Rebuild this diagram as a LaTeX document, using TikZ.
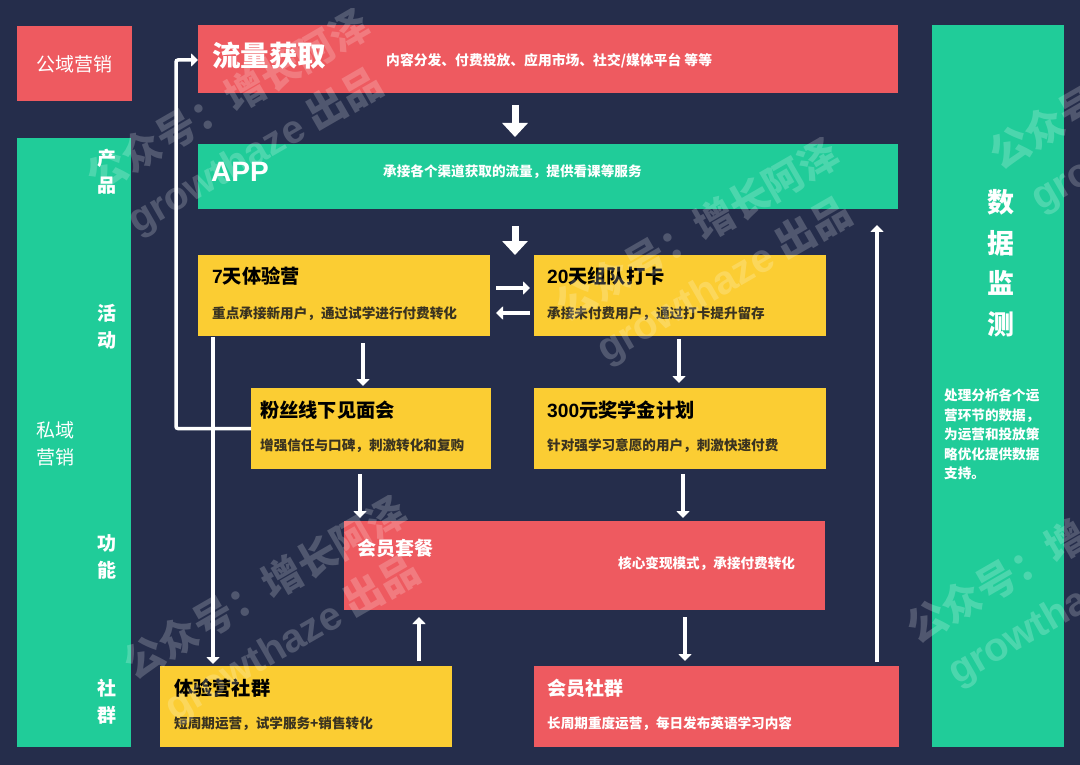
\documentclass[tikz,border=0pt]{standalone}
\usepackage{fontspec}
\usetikzlibrary{arrows.meta}
\setmainfont{Noto Sans CJK SC}
\newfontfamily\lat{Liberation Sans}
\definecolor{bgc}{HTML}{252D4B}
\definecolor{redc}{HTML}{EE5A60}
\definecolor{greenc}{HTML}{20CC99}
\definecolor{yellowc}{HTML}{FBCD33}
\definecolor{darktx}{HTML}{3A3320}
\tikzset{
  x=1pt,y=-1pt,
  panel/.style={rectangle,inner sep=0pt,outer sep=0pt},
  redp/.style={panel,fill=redc},
  greenp/.style={panel,fill=greenc},
  yellowp/.style={panel,fill=yellowc},
  headw/.style={anchor=west,inner sep=0pt,text=white,font=\fontsize{19}{19}\selectfont\bfseries},
  headk/.style={anchor=west,inner sep=0pt,text=black,font=\fontsize{19.2}{19}\selectfont\bfseries},
  descw/.style={anchor=west,inner sep=0pt,text=white,font=\fontsize{13.6}{14}\selectfont\bfseries},
  desck/.style={anchor=west,inner sep=0pt,text=darktx,font=\fontsize{13.6}{14}\selectfont\bfseries},
  side/.style={inner sep=0pt,text=white,align=center,font=\fontsize{19}{27}\selectfont},
  sideb/.style={side,font=\fontsize{19}{27}\selectfont\bfseries},
  thinarr/.style={draw=white,line width=3.5pt,-{Triangle[width=13pt,length=7pt]}},
  bigarr/.style={draw=white,line width=7pt,-{Triangle[width=25pt,length=14pt]}},
  mark wm/.style={text=white,opacity=0.2,inner sep=0pt,rotate=30,font=\fontsize{40}{40}\selectfont\bfseries},
}
\newcommand{\panelbox}[6]{\node[#1,minimum width={(#4-#3)*1pt},minimum height={(#6-#5)*1pt}] (#2) at ({(#3+#4)/2},{(#5+#6)/2}) {};}
\begin{document}
\begin{tikzpicture}
\path[use as bounding box,fill=bgc] (0,0) rectangle (1080,765);
\clip (0,0) rectangle (1080,765);
% panels
\panelbox{redp}{pub}{17}{132}{26}{101}
\panelbox{greenp}{priv}{17}{131}{138}{747}
\panelbox{redp}{traffic}{198}{898}{25}{93}
\panelbox{greenp}{app}{198}{898}{144}{209}
\panelbox{yellowp}{seven}{198}{490}{255}{336}
\panelbox{yellowp}{card}{534}{826}{255}{336}
\panelbox{yellowp}{fans}{251}{491}{388}{469}
\panelbox{yellowp}{schol}{534}{826}{388}{469}
\panelbox{redp}{vip}{344}{825}{521}{610}
\panelbox{yellowp}{trial}{160}{452}{666}{747}
\panelbox{redp}{vipc}{534}{899}{666}{747}
\panelbox{greenp}{data}{932}{1064}{25}{747}
% texts
\node[side] (t1) at (74.5,64) {公域营销};
\node[sideb] (t2) at (107,171.5) {产\\品};
\node[sideb] (t3) at (107,327) {活\\动};
\node[sideb] (t4) at (107,556.5) {功\\能};
\node[sideb] (t5) at (107,701.5) {社\\群};
\node[side] (t6) at (55,443.5) {私域\\营销};
\node[headw,font=\fontsize{28.5}{29}\selectfont\bfseries] (t7) at (212,56) {流量获取};
\node[descw,font=\fontsize{13.8}{14}\selectfont\bfseries] (t8) at (386,60.5) {内容分发、付费投放、应用市场、社交/媒体平台 等等};
\node[headw,font=\fontsize{28}{29}\selectfont\lat\bfseries] (t9) at (211,172) {APP};
\node[descw] (t10) at (383,172) {承接各个渠道获取的流量，提供看课等服务};
\node[headk] (t11) at (212,276) {{\lat 7}天体验营};
\node[desck] (t12) at (212,314) {重点承接新用户，通过试学进行付费转化};
\node[headk] (t13) at (547,276) {{\lat 20}天组队打卡};
\node[desck] (t14) at (547,314) {承接未付费用户，通过打卡提升留存};
\node[headk] (t15) at (260,410) {粉丝线下见面会};
\node[desck] (t16) at (260,446) {增强信任与口碑，刺激转化和复购};
\node[headk] (t17) at (547,410) {{\lat 300}元奖学金计划};
\node[desck] (t18) at (547,446) {针对强学习意愿的用户，刺激快速付费};
\node[headw] (t19) at (357,548) {会员套餐};
\node[descw] (t20) at (618,564) {核心变现模式，承接付费转化};
\node[headk] (t21) at (174,688) {体验营社群};
\node[desck] (t22) at (174,724) {短周期运营，试学服务+销售转化};
\node[headw] (t23) at (547,688) {会员社群};
\node[descw] (t24) at (547,724) {长周期重度运营，每日发布英语学习内容};
\node[side,font=\fontsize{27}{40.5}\selectfont\bfseries] (t25) at (1001,263.5) {数\\据\\监\\测};
\node[side,align=left,anchor=west,font=\fontsize{13.6}{19.6}\selectfont\bfseries] (t26) at (944,434.5) {处理分析各个运\\营环节的数据，\\为运营和投放策\\略优化提供数据\\支持。};
% connectors
\draw[bigarr] ([xshift=317pt,yshift=-12pt]traffic.south west) -- ([xshift=317pt,yshift=7pt]app.north west);
\draw[bigarr] ([xshift=317pt,yshift=-17pt]app.south west) -- ([xshift=317pt]seven.north west);
\draw[thinarr] ([xshift=6pt,yshift=7.5pt]seven.east) -- ([xshift=-4pt,yshift=7.5pt]card.west);
\draw[thinarr] ([xshift=-4pt,yshift=-17.5pt]card.west) -- ([xshift=6pt,yshift=-17.5pt]seven.east);
\draw[thinarr] ([xshift=165pt,yshift=-7pt]seven.south west) -- ([xshift=112pt,yshift=2pt]fans.north west);
\draw[thinarr] ([xshift=145pt,yshift=-3pt]card.south west) -- ([xshift=145pt,yshift=5pt]schol.north west);
\draw[thinarr] ([xshift=109pt,yshift=-5pt]fans.south west) -- ([xshift=16pt,yshift=3pt]vip.north west);
\draw[thinarr] ([xshift=149pt,yshift=-5pt]schol.south west) -- ([xshift=339pt,yshift=3pt]vip.north west);
\draw[thinarr] ([xshift=341pt,yshift=-7pt]vip.south west) -- ([xshift=151pt,yshift=5pt]vipc.north west);
\draw[thinarr] ([xshift=259pt,yshift=5pt]trial.north west) -- ([xshift=75pt,yshift=-7pt]vip.south west);
\draw[thinarr] ([xshift=15pt,yshift=-1pt]seven.south west) -- ([xshift=53pt,yshift=2pt]trial.north west);
\draw[thinarr,rounded corners=2pt] (fans.west) -- ++(-75,0) |- ([yshift=-35pt]traffic.north west);
\draw[thinarr] ([xshift=343pt,yshift=4pt]vipc.north west) -- ([xshift=679pt,yshift=-16pt]app.south west);
% watermarks
\foreach \wx/\wy [count=\wi] in {228/100,697/229,265/587,1048/551,1131/77}{
  \node[mark wm] (wa\wi) at (\wx,\wy) {公众号：增长阿泽};
  \node[mark wm] (wb\wi) at (\wx+27,\wy+52) {{\lat growthaze} 出品};
}
\end{tikzpicture}
\end{document}
